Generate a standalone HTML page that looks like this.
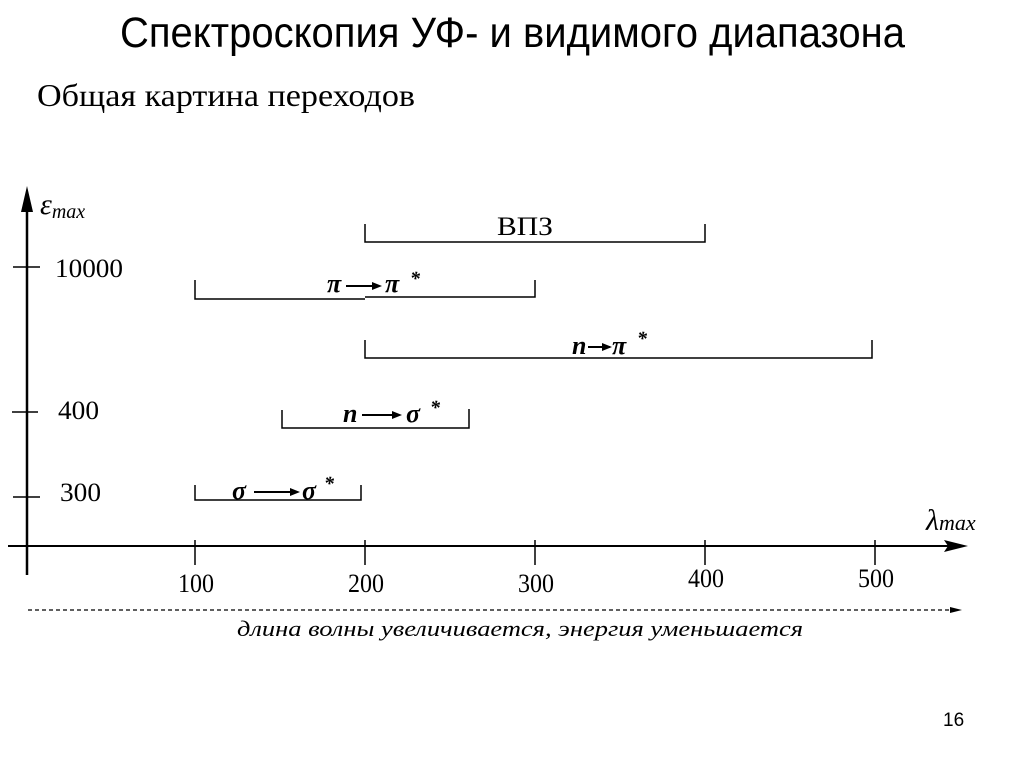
<!DOCTYPE html>
<html><head><meta charset="utf-8"><style>html,body{margin:0;padding:0;background:#fff}</style></head>
<body>
<svg width="1024" height="767" viewBox="0 0 1024 767" xmlns="http://www.w3.org/2000/svg">
<rect width="1024" height="767" fill="#fff"/>
<text x="120" y="47" font-family="Liberation Sans, sans-serif" font-size="43" textLength="785" lengthAdjust="spacingAndGlyphs">Спектроскопия УФ- и видимого диапазона</text>
<text x="37" y="106" font-family="Liberation Serif, serif" font-size="32" textLength="378" lengthAdjust="spacingAndGlyphs">Общая картина переходов</text>
<text x="943" y="726" font-family="Liberation Sans, sans-serif" font-size="19">16</text>
<g stroke="#000" fill="none">
<line x1="27" y1="200" x2="27" y2="575" stroke-width="2.5"/>
<line x1="13" y1="267" x2="40" y2="267" stroke-width="1.5"/>
<line x1="12" y1="412" x2="38" y2="412" stroke-width="1.5"/>
<line x1="13" y1="497" x2="40" y2="497" stroke-width="1.5"/>
<line x1="8" y1="546" x2="950" y2="546" stroke-width="2"/>
<g stroke-width="1.5">
<line x1="195" y1="540" x2="195" y2="565"/><line x1="365" y1="540" x2="365" y2="565"/>
<line x1="535" y1="540" x2="535" y2="565"/><line x1="705" y1="540" x2="705" y2="565"/>
<line x1="875" y1="540" x2="875" y2="565"/>
<polyline points="365,224 365,242 705,242 705,224"/>
<polyline points="195,280 195,299 365,299"/>
<polyline points="365,297 535,297 535,280"/>
<polyline points="365,340 365,358 872,358 872,340"/>
<polyline points="282,410 282,428 469,428 469,409"/>
<polyline points="195,485 195,500 361,500 361,485"/>
</g>
<line x1="28" y1="610" x2="950" y2="610" stroke-width="1.3" stroke-dasharray="4,3"/>
</g>
<polygon points="27,186 21,212 33,212" fill="#000"/>
<polygon points="968,546 944,540 948,546 944,552" fill="#000"/>
<polygon points="962,610 950,607 950,613" fill="#000"/>
<text x="40" y="214" font-family="Liberation Serif, serif" font-size="30" font-style="italic">ε<tspan font-size="20" dy="4">max</tspan></text>
<g font-family="Liberation Serif, serif" font-size="26">
<text x="55" y="277" textLength="68" lengthAdjust="spacingAndGlyphs">10000</text><text x="58" y="419" textLength="41" lengthAdjust="spacingAndGlyphs">400</text><text x="60" y="501" textLength="41" lengthAdjust="spacingAndGlyphs">300</text>
<text x="178" y="592" textLength="36" lengthAdjust="spacingAndGlyphs">100</text><text x="348" y="592" textLength="36" lengthAdjust="spacingAndGlyphs">200</text><text x="518" y="592" textLength="36" lengthAdjust="spacingAndGlyphs">300</text><text x="688" y="587" textLength="36" lengthAdjust="spacingAndGlyphs">400</text><text x="858" y="587" textLength="36" lengthAdjust="spacingAndGlyphs">500</text>
<text x="497" y="235" font-size="26" textLength="56" lengthAdjust="spacingAndGlyphs">ВПЗ</text>
</g>
<text x="926" y="530" font-family="Liberation Serif, serif" font-size="30" font-style="italic">λ<tspan font-size="22">max</tspan></text>
<g font-family="Liberation Serif, serif" font-weight="bold" font-style="italic" font-size="26">
<text x="327" y="292">π</text><text x="385" y="292">π</text><text x="410" y="285" font-size="20">*</text>
<text x="572" y="354">n</text><text x="612" y="354">π</text><text x="637" y="345" font-size="20">*</text>
<text x="343" y="422">n</text><text x="406" y="422">σ</text><text x="430" y="414" font-size="20">*</text>
<text x="232" y="499">σ</text><text x="302" y="499">σ</text><text x="324" y="490" font-size="20">*</text>
</g>
<g stroke="#000" stroke-width="2">
<line x1="346" y1="286" x2="378" y2="286"/><line x1="588" y1="347" x2="610" y2="347"/>
<line x1="362" y1="415" x2="398" y2="415"/><line x1="254" y1="492" x2="296" y2="492"/>
</g>
<g fill="#000">
<polygon points="382,286 372,282 372,290"/><polygon points="612,347 602,343 602,351"/>
<polygon points="402,415 392,411 392,419"/><polygon points="300,492 290,488 290,496"/>
</g>
<text x="520" y="636" text-anchor="middle" font-family="Liberation Serif, serif" font-style="italic" font-size="22" textLength="566" lengthAdjust="spacingAndGlyphs">длина волны увеличивается, энергия уменьшается</text>
</svg>
</body></html>
